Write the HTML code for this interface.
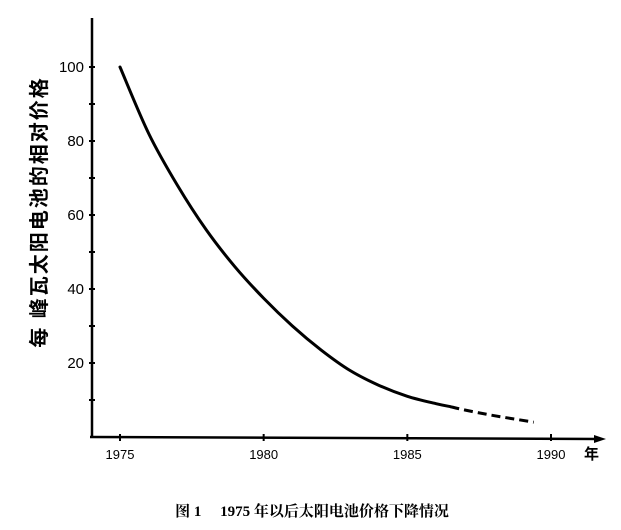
<!DOCTYPE html>
<html><head><meta charset="utf-8"><style>
body{margin:0;background:#fff;}
svg{display:block;}
</style></head><body>
<svg width="621" height="530" viewBox="0 0 621 530" xmlns="http://www.w3.org/2000/svg">
<g id="axes"></g>
<g id="marks"></g>
<text x="46" y="212" transform="rotate(-90 46 212)" text-anchor="middle" font-family="Liberation Sans, Noto Sans CJK SC, sans-serif" font-size="20" font-weight="bold" letter-spacing="2" fill="#000">每 峰瓦太阳电池的相对价格</text>
<text x="312" y="516" text-anchor="middle" font-family="Liberation Serif, Noto Serif CJK SC, serif" font-size="15" font-weight="bold" fill="#000">图 1　 1975 年以后太阳电池价格下降情况</text>
</svg>
<script>
const years = [1975,1976,1977,1978,1979,1980,1981,1982,1983,1984,1985,1986,1986.5];
const values = [100,82,68,56,46,37.5,30,23.5,18,14,11,9,8.2];
const dashYears = [1986.5,1987,1988,1989.4];
const dashValues = [8.2,7.3,5.8,4];
const xTicks = [1975,1980,1985,1990];
const xTickLabels = ['1975','1980','1985','1990'];
const yTicks = [10,20,30,40,50,60,70,80,90,100];
const yTickLabels = {20:'20',40:'40',60:'60',80:'80',100:'100'};

const NS='http://www.w3.org/2000/svg';
const X = y => 120 + (y-1975)*(551-120)/15;
const Y = v => 437 - v*3.7;
function mk(tag,attrs,parent){const e=document.createElementNS(NS,tag);for(const k in attrs)e.setAttribute(k,attrs[k]);parent.appendChild(e);return e;}
const ax=document.getElementById('axes');
let e=mk('line',{x1:92,y1:437,x2:92,y2:18,stroke:'#000','stroke-width':2.5},ax);


e=mk('line',{x1:90,y1:437,x2:600,y2:439,stroke:'#000','stroke-width':2.5},ax);


e=mk('polygon',{points:'606,439 594,435 594,443',fill:'#000'},ax);


yTicks.forEach(v=>{
  const t=mk('line',{x1:89,y1:Y(v),x2:95,y2:Y(v),stroke:'#000','stroke-width':2},ax);
  
  
  if(yTickLabels[v]){
    const l=mk('text',{x:84,y:Y(v)+5,'text-anchor':'end','font-family':'Liberation Sans, sans-serif','font-size':15,fill:'#000'},ax);
    l.textContent=yTickLabels[v];
    
    
  }
});
xTicks.forEach((yr,i)=>{
  const t=mk('line',{x1:X(yr),y1:434,x2:X(yr),y2:441,stroke:'#000','stroke-width':2},ax);
  
  
  const l=mk('text',{x:X(yr),y:459,'text-anchor':'middle','font-family':'Liberation Sans, sans-serif','font-size':13,fill:'#000'},ax);
  l.textContent=xTickLabels[i];
  
  
});
e=mk('text',{x:584,y:459,'font-family':'Liberation Sans, Noto Sans CJK SC, sans-serif','font-size':15,'font-weight':'bold',fill:'#000'},ax);
e.textContent='年';



function smooth(xs,vs){
  const p=xs.map((x,i)=>[X(x),Y(vs[i])]);
  let d='M'+p[0][0]+','+p[0][1];
  for(let i=0;i<p.length-1;i++){
    const p0=p[i-1]||p[i],p1=p[i],p2=p[i+1],p3=p[i+2]||p2;
    const c1=[p1[0]+(p2[0]-p0[0])/6,p1[1]+(p2[1]-p0[1])/6];
    const c2=[p2[0]-(p3[0]-p1[0])/6,p2[1]-(p3[1]-p1[1])/6];
    d+=' C'+c1+' '+c2+' '+p2;
  }
  return d;
}
const mg=document.getElementById('marks');
e=mk('path',{d:smooth(years,values),fill:'none',stroke:'#000','stroke-width':3,'stroke-linecap':'round'},mg);


e=mk('path',{d:smooth(dashYears,dashValues),fill:'none',stroke:'#000','stroke-width':3,'stroke-dasharray':'9 5'},mg);


</script>
</body></html>
